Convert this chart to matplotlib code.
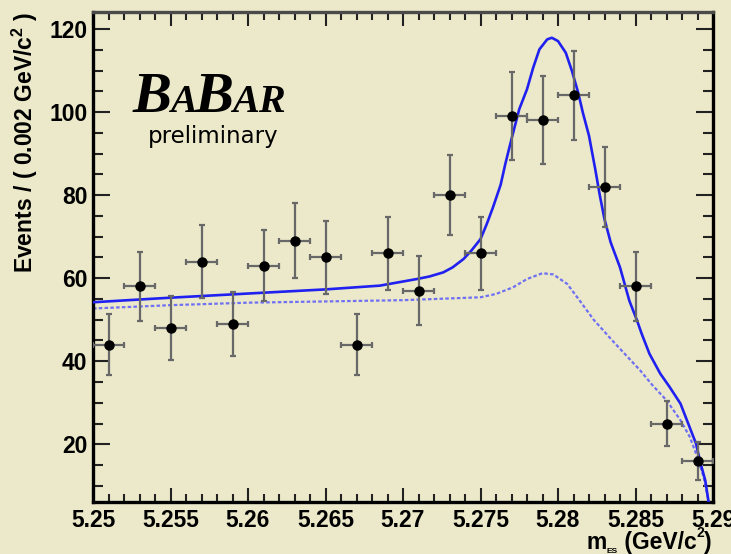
import matplotlib
matplotlib.use("Agg")
import matplotlib.pyplot as plt
from matplotlib.transforms import IdentityTransform
from matplotlib.ticker import MultipleLocator, FixedLocator, FixedFormatter

# ---------------- data ----------------
bin_centers = [5.251, 5.253, 5.255, 5.257, 5.259, 5.261, 5.263, 5.265, 5.267, 5.269,
               5.271, 5.273, 5.275, 5.277, 5.279, 5.281, 5.283, 5.285, 5.287, 5.289]
counts = [44, 58, 48, 64, 49, 63, 69, 65, 44, 66,
          57, 80, 66, 99, 98, 104, 82, 58, 25, 16]
count_errors = [7.3, 8.3, 7.7, 8.7, 7.7, 8.6, 9.0, 8.8, 7.3, 8.8,
                8.3, 9.6, 8.8, 10.6, 10.6, 10.8, 9.6, 8.3, 5.5, 4.6]
bin_half_width = 0.001

fit_x = [5.250, 5.255, 5.260, 5.265, 5.2685, 5.2709, 5.2717, 5.2726, 5.2732, 5.2739,
         5.2744, 5.2750, 5.2754, 5.2758, 5.2763, 5.2766, 5.2770, 5.2775, 5.2780, 5.2784,
         5.2788, 5.2793, 5.2796, 5.2800, 5.2805, 5.2809, 5.2813, 5.2816, 5.2820, 5.2824,
         5.2827, 5.2830, 5.2834, 5.2840, 5.2846, 5.2851, 5.2854, 5.2859, 5.2866, 5.2872,
         5.2879, 5.2884, 5.2889, 5.2892, 5.2895, 5.2897, 5.2900]
fit_y = [54.2, 55.3, 56.3, 57.3, 58.2, 59.8, 60.4, 61.4, 62.6, 64.6,
         66.6, 69.4, 73.0, 77.0, 82.5, 87.5, 93.5, 100.7, 105.5, 110.7,
         115.1, 117.5, 117.9, 117.1, 114.3, 109.9, 104.7, 99.9, 94.3, 86.3,
         79.9, 74.2, 68.6, 62.6, 54.6, 49.8, 46.6, 41.8, 37.0, 33.8,
         29.8, 25.0, 20.2, 15.4, 11.3, 6.5, 0.0]

bkg_x = [5.250, 5.255, 5.260, 5.265, 5.270, 5.275, 5.2760, 5.2771, 5.2780, 5.2790,
         5.2797, 5.2806, 5.2814, 5.2823, 5.2836, 5.2844, 5.2853, 5.2861, 5.2870, 5.2879,
         5.2885, 5.2889, 5.2894, 5.2897, 5.2900]
bkg_y = [52.7, 53.5, 54.1, 54.4, 54.7, 55.4, 56.2, 57.8, 59.8, 61.2,
         60.9, 58.6, 54.6, 50.0, 44.6, 41.4, 37.8, 34.2, 30.6, 25.8,
         21.8, 17.8, 12.1, 6.5, 0.0]

x_ticks = [5.25, 5.255, 5.26, 5.265, 5.27, 5.275, 5.28, 5.285, 5.29]
x_tick_labels = ["5.25", "5.255", "5.26", "5.265", "5.27", "5.275", "5.28", "5.285", "5.29"]
y_ticks = [20, 40, 60, 80, 100, 120]
y_tick_labels = ["20", "40", "60", "80", "100", "120"]

# ---------------- style ----------------
BG = "#EBE9C9"
plt.rcParams["font.family"] = ["Liberation Sans", "DejaVu Sans"]
plt.rcParams["mathtext.fontset"] = "custom"
plt.rcParams["mathtext.rm"] = "Liberation Sans:bold"
plt.rcParams["mathtext.bf"] = "Liberation Sans:bold"
plt.rcParams["mathtext.it"] = "Liberation Sans:bold"

W, H = 731, 554
fig = plt.figure(figsize=(W / 100, H / 100), dpi=100, facecolor=BG)
ax = fig.add_axes([93 / W, 1 - 502 / H, (713 - 93) / W, (502 - 12) / H], facecolor=BG)

ax.set_xlim(5.25, 5.29)
ax.set_ylim(6.1, 124.1)

# curves
ax.plot(bkg_x, bkg_y, color="#7070f5", lw=1.6, ls=(0, (1.6, 1.0)), zorder=2)
ax.plot(fit_x, fit_y, color="#2020f0", lw=1.9, zorder=3)

# data points
ax.errorbar(bin_centers, counts, yerr=count_errors, xerr=bin_half_width,
            fmt="o", color="black", ms=6.5, ecolor="#686868", elinewidth=1.6,
            capsize=2.2, capthick=1.6, zorder=4)

# spines
for side in ["left", "bottom", "right"]:
    ax.spines[side].set_linewidth(2.4)
    ax.spines[side].set_color("black")
ax.spines["top"].set_linewidth(2.4)
ax.spines["top"].set_color("#4a4a4a")

ax.xaxis.set_major_locator(FixedLocator(x_ticks))
ax.xaxis.set_major_formatter(FixedFormatter(x_tick_labels))
ax.xaxis.set_minor_locator(MultipleLocator(0.001))
ax.yaxis.set_major_locator(FixedLocator(y_ticks))
ax.yaxis.set_major_formatter(FixedFormatter(y_tick_labels))
ax.yaxis.set_minor_locator(MultipleLocator(5))

ax.tick_params(axis="x", which="major", direction="in", length=10, width=1.5,
               top=True, bottom=True, color="#222222", pad=5,
               labelsize=16.5)
ax.tick_params(axis="x", which="minor", direction="in", length=5.5, width=1.5,
               top=True, bottom=True, color="#222222")
ax.tick_params(axis="y", which="major", direction="in", length=12.5, width=1.5,
               left=True, right=True, color="#222222", pad=4, labelsize=16.5)
ax.tick_params(axis="y", which="minor", direction="in", length=7, width=1.5,
               left=True, right=True, color="#222222")
for lab in ax.get_xticklabels() + ax.get_yticklabels():
    lab.set_fontweight("bold")

renderer = fig.canvas.get_renderer()

# y axis title
fig.text(25, H - 12, r"Events / ( 0.002 GeV/c$^{2}$ )", transform=IdentityTransform(),
         rotation=90, ha="center", va="top", fontsize=16.5, fontweight="bold")

# x axis title built from pieces: m, tiny subscript ES, (GeV/c, superscript 2, )
x_title_parts = [("m", 16.5, 0), ("ES", 6, -4), (" (GeV/c", 16.5, 0), ("2", 10, 12), (")", 16.5, 0)]
x_base = H - 549
texts = []
for s, size, dy in x_title_parts:
    t = fig.text(0, x_base + dy, s, transform=IdentityTransform(), ha="left",
                 va="baseline", fontsize=size, fontweight="bold")
    texts.append(t)
widths = [t.get_window_extent(renderer).width for t in texts]
cur = 712 - sum(widths)
for t, w in zip(texts, widths):
    t.set_x(cur)
    cur += w

# BaBar logo
x = 133
baseline = H - 112
for s, size in [("B", 42), ("A", 29), ("B", 42), ("AR", 29)]:
    t = fig.text(x, baseline, s, transform=IdentityTransform(), ha="left", va="baseline",
                 fontsize=size, family="Liberation Serif", style="italic", fontweight="bold")
    bb = t.get_window_extent(renderer)
    x = bb.x1 - 2
fig.text(148, H - 143, "preliminary", transform=IdentityTransform(), ha="left",
         va="baseline", fontsize=16.5, family="DejaVu Sans")

fig.savefig("out.png", dpi=100, facecolor=BG)
